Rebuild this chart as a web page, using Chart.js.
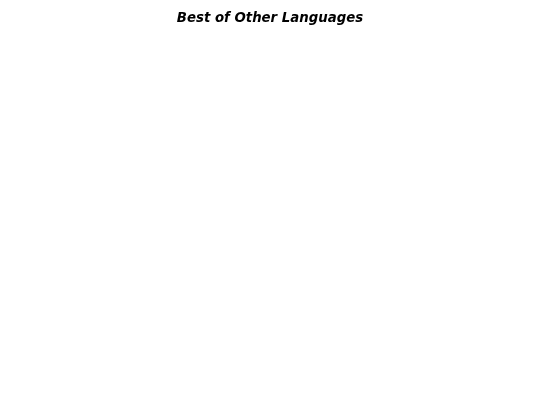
<!DOCTYPE html>
<html>
<head>
<meta charset="utf-8">
<script src="https://cdn.jsdelivr.net/npm/chart.js@4"></script>
<style>
html,body{margin:0;padding:0;background:#fff;}
#wrap{width:540px;height:405px;}
</style>
</head>
<body>
<div id="wrap"><canvas id="c" width="540" height="405"></canvas></div>
<script>
const categories = [];
const values = [];
const chartTitle = "Best of Other Languages";

new Chart(document.getElementById('c'), {
  type: 'pie',
  data: {
    labels: categories,
    datasets: [{ data: values }]
  },
  options: {
    responsive: false,
    animation: false,
    plugins: {
      legend: { display: false },
      tooltip: { enabled: false },
      title: {
        display: true,
        text: chartTitle,
        color: '#000',
        font: { family: 'DejaVu Sans', size: 13.3, weight: 'bold', style: 'italic' },
        padding: { top: 11, bottom: 8 }
      }
    }
  }
});
</script>
</body>
</html>
